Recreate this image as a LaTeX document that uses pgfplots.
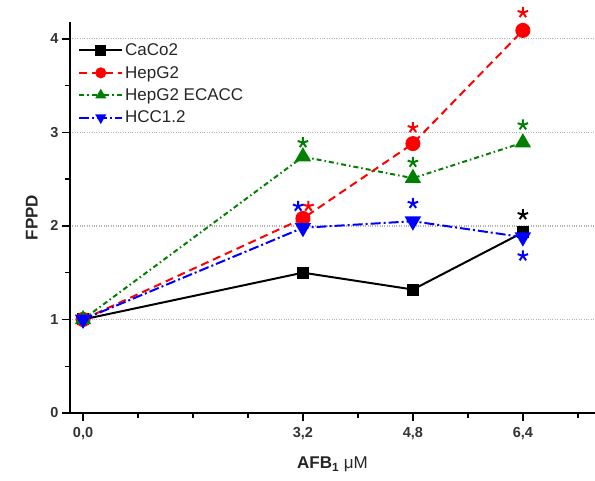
\documentclass[border=0pt]{standalone}
\usepackage{pgfplots}
\pgfplotsset{compat=1.18}
\usepackage{fontspec}
\setmainfont{Liberation Sans}
\begin{document}
\begin{tikzpicture}
\begin{axis}[
  scale only axis,
  width=525pt, height=391pt,
  xmin=-0.19, xmax=7.45,
  ymin=0, ymax=4.18,
  axis lines=left,
  axis line style={-, line width=1.5pt},
  clip=false,
  xtick={0,3.2,4.8,6.4},
  xticklabels={{0,0},{3,2},{4,8},{6,4}},
  minor xtick={0.8,1.6,2.4,4.0,5.6,7.2},
  ytick={0,1,2,3,4},
  minor ytick={0.5,1.5,2.5,3.5},
  tick align=outside,
  major tick length=8pt,
  minor tick length=5pt,
  every tick/.style={line width=1.4pt, black},
  tick label style={font=\fontsize{14.5}{17}\selectfont\bfseries, text=black!80},
  xticklabel style={yshift=-3pt},
  /pgf/number format/assume math mode=true,
  ymajorgrids,
  grid style={dotted, gray!60, line width=1.2pt},
  xlabel={\textbf{AFB\textsubscript{1}} μM},
  ylabel={\textbf{FPPD}},
  label style={font=\fontsize{17}{20}\selectfont, text=black!85},
  xlabel style={yshift=-10pt},
  ylabel style={yshift=6pt},
  legend style={at={(0.01,0.955)}, anchor=north west, draw=none, fill=none,
    font=\fontsize{17}{20}\selectfont, text=black!85, row sep=5pt},
  legend cell align=left,
  legend image code/.code={%
    \draw[#1, mark size=4.5pt, mark repeat=2, mark phase=2]
      plot coordinates {(0cm,0cm) (0.75cm,0cm) (1.5cm,0cm)};},
]
\addplot[black, line width=2pt, mark=square*, mark size=5pt, mark options={solid}]
  coordinates {(0,1) (3.2,1.50) (4.8,1.32) (6.4,1.93)};
\addlegendentry{CaCo2}
\addplot[red, line width=2pt, dash pattern=on 8pt off 5pt, mark=*, mark size=6.5pt, mark options={solid}]
  coordinates {(0,1) (3.2,2.08) (4.8,2.88) (6.4,4.09)};
\addlegendentry{HepG2}
\addplot[green!50!black, line width=2pt, dash pattern=on 5pt off 3pt on 1.5pt off 3pt, mark=triangle*, mark size=7.5pt, mark options={solid}]
  coordinates {(0,1) (3.2,2.74) (4.8,2.51) (6.4,2.89)};
\addlegendentry{HepG2 ECACC}
\addplot[blue, line width=2pt, dash pattern=on 10pt off 3pt on 2pt off 3pt, mark=triangle*, mark size=7.5pt, mark options={solid, rotate=180}]
  coordinates {(0,1) (3.2,1.98) (4.8,2.05) (6.4,1.88)};
\addlegendentry{HCC1.2}
% significance asterisks
\addplot[only marks, forget plot, black, mark=star, mark size=5.5pt, mark options={line width=2pt}]
  coordinates {(6.4,2.12)};
\addplot[only marks, forget plot, red, mark=star, mark size=5.5pt, mark options={line width=2pt}]
  coordinates {(3.28,2.21) (4.8,3.05) (6.4,4.28)};
\addplot[only marks, forget plot, green!50!black, mark=star, mark size=5.5pt, mark options={line width=2pt}]
  coordinates {(3.2,2.89) (4.8,2.68) (6.4,3.08)};
\addplot[only marks, forget plot, blue, mark=star, mark size=5.5pt, mark options={line width=2pt}]
  coordinates {(3.13,2.21) (4.8,2.24) (6.4,1.68)};
\end{axis}
\pgfresetboundingbox
\path (-70pt,-68pt) rectangle (525pt,413pt);
\end{tikzpicture}
\end{document}
